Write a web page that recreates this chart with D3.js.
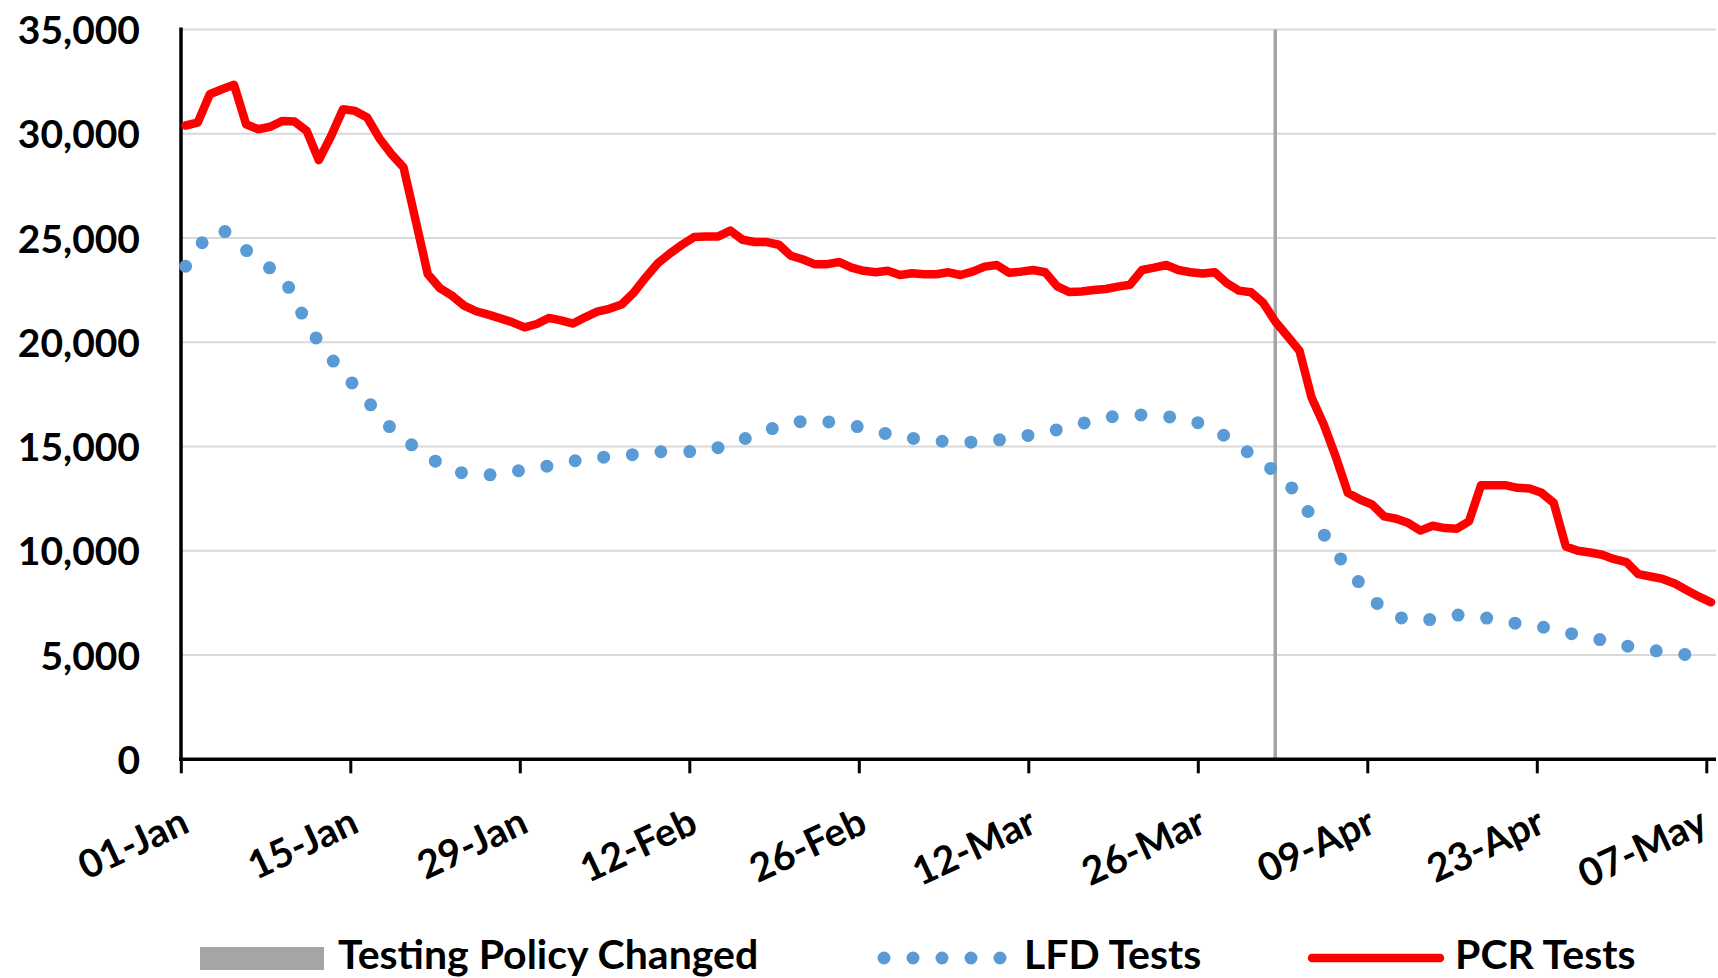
<!DOCTYPE html>
<html lang="en">
<head>
<meta charset="UTF-8">
<title>PCR and LFD tests</title>
<script src="https://d3js.org/d3.v7.min.js"></script>
<style>
    body { margin: 0; background: #fff; }
    svg { display: block; font-family: Lato, "Open Sans", sans-serif; font-weight: 700; }
    .axis text { font-family: Lato, "Open Sans", sans-serif; font-size: 39px; fill: #000; }
    .legend text { font-size: 41px; fill: #000; }
</style>
</head>
<body>
<svg width="1718" height="978"></svg>
<script>
// day 0 = 01-Jan, one value per day
const tickDays = [0, 14, 28, 42, 56, 70, 84, 98, 112, 126];
const tickLabels = ["01-Jan", "15-Jan", "29-Jan", "12-Feb", "26-Feb", "12-Mar", "26-Mar", "09-Apr", "23-Apr", "07-May"];
const yTicks = [0, 5000, 10000, 15000, 20000, 25000, 30000, 35000];
const policyChangeDay = 90; // 01-Apr

const pcrTests = [
    30400, 30540, 31900, 32140, 32350, 30460, 30220, 30340, 30620, 30590,
    30140, 28740, 29870, 31180, 31100, 30780, 29790, 29030, 28390, 25850,
    23280, 22600, 22240, 21760, 21490, 21330, 21150, 20960, 20720, 20880,
    21170, 21050, 20900, 21200, 21470, 21610, 21810, 22370, 23110, 23790,
    24260, 24680, 25050, 25080, 25080, 25360, 24920, 24810, 24810, 24680,
    24150, 23970, 23740, 23750, 23850, 23580, 23430, 23360, 23430, 23230,
    23310, 23265, 23265, 23360, 23230, 23390, 23630, 23710, 23340, 23390,
    23470, 23360, 22680, 22410, 22440, 22510, 22560, 22670, 22760, 23470,
    23580, 23710, 23470, 23360, 23300, 23360, 22840, 22480, 22400, 21900,
    21000, 20300, 19600, 17350, 16070, 14510, 12780, 12460, 12220, 11650,
    11540, 11330, 10970, 11200, 11090, 11060, 11410, 13150, 13150, 13150,
    13020, 12990, 12780, 12300, 10210, 10000, 9920, 9810, 9600, 9460,
    8880, 8770, 8650, 8430, 8110, 7800, 7530
];

const lfdTests = [
    23650, 24560, 25150, 25450, 24900, 24420, 23900, 23550, 23250, 22050,
    20950, 20000, 19250, 18500, 17900, 17200, 16500, 15850, 15350, 14950,
    14550, 14150, 13850, 13720, 13650, 13640, 13660, 13780, 13900, 13960,
    14080, 14190, 14300, 14420, 14480, 14500, 14530, 14620, 14720, 14750,
    14760, 14760, 14760, 14780, 14950, 15110, 15340, 15550, 15770, 15970,
    16140, 16210, 16260, 16190, 16120, 16010, 15900, 15740, 15600, 15470,
    15400, 15330, 15280, 15230, 15210, 15210, 15210, 15300, 15400, 15490,
    15570, 15670, 15810, 15940, 16100, 16250, 16370, 16480, 16520, 16520,
    16500, 16440, 16380, 16250, 16080, 15800, 15450, 15050, 14610, 14200,
    13800, 13250, 12600, 11590, 10800, 9950, 9110, 8430, 7730, 7130,
    6880, 6650, 6680, 6710, 6820, 6920, 6900, 6820, 6720, 6610,
    6510, 6430, 6350, 6240, 6090, 5960, 5840, 5720, 5580, 5440,
    5330, 5240, 5160, 5090, 5020
];

const svg = d3.select("svg");

const plotLeft = 181, plotRight = 1716, plotTop = 29.6, plotBottom = 759.3;

// points sit a little right of the date ticks, as in the original sheet
const x = d3.scaleLinear().domain([0, 126]).range([185.6, 1711.1]);
const xTick = d3.scaleLinear().domain([0, 126]).range([180.8, 1706.3]);
const y = d3.scaleLinear().domain([0, 35000]).range([plotBottom, plotTop]);

// gridlines
svg.append("g")
    .selectAll("line")
    .data(yTicks.filter(d => d > 0))
    .join("line")
    .attr("x1", plotLeft).attr("x2", plotRight)
    .attr("y1", d => y(d)).attr("y2", d => y(d))
    .attr("stroke", "#d9d9d9")
    .attr("stroke-width", 2);

// policy change marker
svg.append("line")
    .attr("x1", x(policyChangeDay)).attr("x2", x(policyChangeDay))
    .attr("y1", plotTop).attr("y2", plotBottom)
    .attr("stroke", "#a5a5a5")
    .attr("stroke-width", 3.5);

// y axis
const yAxis = svg.append("g")
    .attr("class", "axis")
    .attr("transform", `translate(${plotLeft},0)`)
    .call(d3.axisLeft(y).tickValues(yTicks).tickSize(0).tickPadding(41).tickFormat(d3.format(",")));
yAxis.select(".domain").remove();
yAxis.selectAll("text").attr("dy", "0.36em");

// x axis
const xAxis = svg.append("g")
    .attr("class", "axis")
    .attr("transform", `translate(0,${plotBottom})`)
    .call(d3.axisBottom(xTick).tickValues(tickDays).tickSizeOuter(0).tickSize(14)
        .tickFormat((d, i) => tickLabels[i]));
xAxis.select(".domain").remove();
xAxis.selectAll(".tick line").attr("stroke", "#000").attr("stroke-width", 3);
// last label pulled in a touch so it stays inside the page
xAxis.selectAll("text")
    .attr("x", 0).attr("y", 0).attr("dy", 0)
    .attr("text-anchor", "end")
    .attr("transform", (d, i) => `translate(${i === tickDays.length - 1 ? 3 : 10},72) rotate(-25)`);

// axis lines
svg.append("line")
    .attr("x1", plotLeft).attr("x2", plotLeft)
    .attr("y1", plotTop - 2).attr("y2", plotBottom)
    .attr("stroke", "#000").attr("stroke-width", 3.5);
svg.append("line")
    .attr("x1", plotLeft - 2).attr("x2", plotRight)
    .attr("y1", plotBottom).attr("y2", plotBottom)
    .attr("stroke", "#000").attr("stroke-width", 3.5);

const line = d3.line()
    .x((d, i) => x(i))
    .y(d => y(d));

// LFD series: round-dot dashed line
svg.append("path")
    .datum(lfdTests)
    .attr("d", line)
    .attr("fill", "none")
    .attr("stroke", "#5b9bd5")
    .attr("stroke-width", 13)
    .attr("stroke-linecap", "round")
    .attr("stroke-linejoin", "round")
    .attr("stroke-dasharray", "0 28.8");

// PCR series
svg.append("path")
    .datum(pcrTests)
    .attr("d", line)
    .attr("fill", "none")
    .attr("stroke", "#ff0000")
    .attr("stroke-width", 8.5)
    .attr("stroke-linecap", "round")
    .attr("stroke-linejoin", "round");

// legend
const legend = svg.append("g").attr("class", "legend");
legend.append("rect")
    .attr("x", 200).attr("y", 947).attr("width", 124).attr("height", 23)
    .attr("fill", "#a5a5a5");
legend.append("text").attr("x", 338).attr("y", 969).text("Testing Policy Changed");

legend.append("line")
    .attr("x1", 884).attr("x2", 1002).attr("y1", 958).attr("y2", 958)
    .attr("stroke", "#5b9bd5").attr("stroke-width", 13)
    .attr("stroke-linecap", "round").attr("stroke-dasharray", "0 29");
legend.append("text").attr("x", 1024).attr("y", 969).text("LFD Tests");

legend.append("line")
    .attr("x1", 1312).attr("x2", 1440).attr("y1", 958).attr("y2", 958)
    .attr("stroke", "#ff0000").attr("stroke-width", 8.5)
    .attr("stroke-linecap", "round");
legend.append("text").attr("x", 1455).attr("y", 969).text("PCR Tests");
</script>
</body>
</html>
